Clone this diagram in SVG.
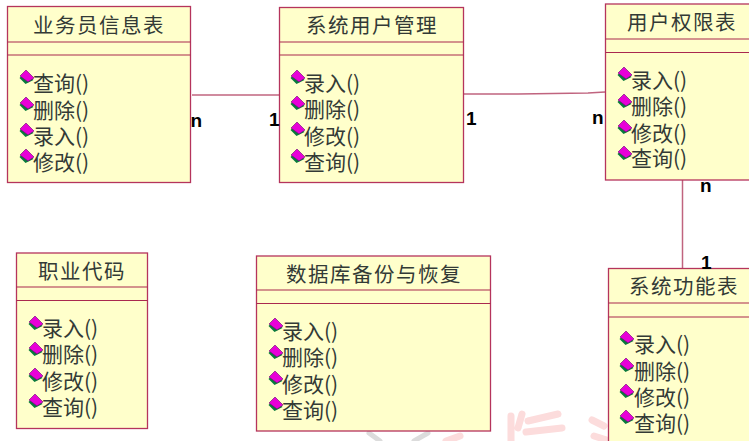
<svg xmlns="http://www.w3.org/2000/svg" width="749" height="441" viewBox="0 0 749 441">
<style>
.box{fill:#ffffcb;stroke:#b5345c;stroke-width:1.3}
.sep{stroke:#a9294f;stroke-width:1.2;fill:none}
.conn{stroke:#c0647f;stroke-width:1.5;fill:none}
text{font-family:"Noto Sans CJK SC","Liberation Sans",sans-serif;fill:#333a36}
.t{font-size:20.500px;letter-spacing:1.500px;text-anchor:middle}
.m{font-size:21px}
.c{font-family:"Liberation Sans",Arial,sans-serif;font-size:19px;font-weight:700;fill:#000}
</style>
<defs>
<g id="op">
<path d="M-1 -6L-7 0L-1 6L7 2Z" fill="#0a7a3c" transform="translate(-.5,1)"/>
<path d="M-1 -7L-7 -1L1 5L7 1Z" fill="#e800d8" stroke="#65106a" stroke-width=".6"/>
</g>
</defs>
<rect width="749" height="441" fill="#fff"/>
<g id="watermark" fill="none" stroke-linecap="round">
<path d="M369 433L380 441M428 433L414 441" stroke="#dcdcdc" stroke-width="5"/>
<path d="M446 441L460 436M511 416V441M522 414L518 428M528 421L558 414M526 432L562 428M592 420L604 426M594 436L610 441" stroke="#fcdcdc" stroke-width="7"/>
</g>
<g id="connectors">
<path class="conn" d="M192 95H279"/>
<path class="conn" d="M464 94L518 94L588 93L605 92"/>
<path class="conn" d="M682.500 180V268"/>
</g>
<g id="node-salesman">
<rect class="box" x="7.500" y="6.500" width="183" height="176"/>
<path class="sep" d="M7.500 42H190.500M7.500 55H190.500"/>
<text class="t" x="99" y="33">业务员信息表</text>
<use href="#op" x="27" y="77"/><text class="m" x="33" y="91">查询()</text>
<use href="#op" x="27" y="104"/><text class="m" x="33" y="118">删除()</text>
<use href="#op" x="27" y="130"/><text class="m" x="33" y="144">录入()</text>
<use href="#op" x="27" y="156"/><text class="m" x="33" y="170">修改()</text>
</g>
<g id="node-user-mgmt">
<rect class="box" x="279.500" y="7.500" width="184" height="175"/>
<path class="sep" d="M279.500 42H463.500M279.500 55H463.500"/>
<text class="t" x="372" y="33">系统用户管理</text>
<use href="#op" x="298" y="77"/><text class="m" x="304" y="91">录入()</text>
<use href="#op" x="298" y="103"/><text class="m" x="304" y="117">删除()</text>
<use href="#op" x="298" y="129"/><text class="m" x="304" y="144">修改()</text>
<use href="#op" x="298" y="156"/><text class="m" x="304" y="170">查询()</text>
</g>
<g id="node-permissions">
<rect class="box" x="605.500" y="4" width="150" height="176"/>
<path class="sep" d="M605.500 39H749M605.500 52.500H749"/>
<text class="t" x="682" y="30">用户权限表</text>
<use href="#op" x="625" y="74"/><text class="m" x="631" y="88">录入()</text>
<use href="#op" x="625" y="101"/><text class="m" x="631" y="114">删除()</text>
<use href="#op" x="625" y="127"/><text class="m" x="631" y="141">修改()</text>
<use href="#op" x="625" y="153"/><text class="m" x="631" y="166">查询()</text>
</g>
<g id="node-job-code">
<rect class="box" x="16.500" y="253" width="131" height="175.500"/>
<path class="sep" d="M16.500 287H147.500M16.500 300.500H147.500"/>
<text class="t" x="82" y="279">职业代码</text>
<use href="#op" x="36" y="323"/><text class="m" x="42" y="336">录入()</text>
<use href="#op" x="36" y="349"/><text class="m" x="42" y="362">删除()</text>
<use href="#op" x="36" y="375"/><text class="m" x="42" y="389">修改()</text>
<use href="#op" x="36" y="401"/><text class="m" x="42" y="415">查询()</text>
</g>
<g id="node-backup">
<rect class="box" x="256.500" y="256" width="234" height="175"/>
<path class="sep" d="M256.500 290H490.500M256.500 303.500H490.500"/>
<text class="t" x="374" y="282">数据库备份与恢复</text>
<use href="#op" x="276" y="325"/><text class="m" x="282" y="339">录入()</text>
<use href="#op" x="276" y="352"/><text class="m" x="282" y="365">删除()</text>
<use href="#op" x="276" y="378"/><text class="m" x="282" y="392">修改()</text>
<use href="#op" x="276" y="404"/><text class="m" x="282" y="418">查询()</text>
</g>
<g id="node-functions">
<rect class="box" x="608.500" y="268.500" width="150" height="180"/>
<path class="sep" d="M608.500 303H749M608.500 317H749"/>
<text class="t" x="684" y="294">系统功能表</text>
<use href="#op" x="627" y="338"/><text class="m" x="634" y="352">录入()</text>
<use href="#op" x="627" y="365"/><text class="m" x="634" y="379">删除()</text>
<use href="#op" x="627" y="391"/><text class="m" x="634" y="405">修改()</text>
<use href="#op" x="627" y="417"/><text class="m" x="634" y="431">查询()</text>
</g>
<g id="labels">
<text class="c" x="190.500" y="127">n</text>
<text class="c" x="269" y="126">1</text>
<text class="c" x="466" y="125">1</text>
<text class="c" x="592" y="124">n</text>
<text class="c" x="700" y="192">n</text>
<text class="c" x="701" y="269">1</text>
</g>
</svg>
